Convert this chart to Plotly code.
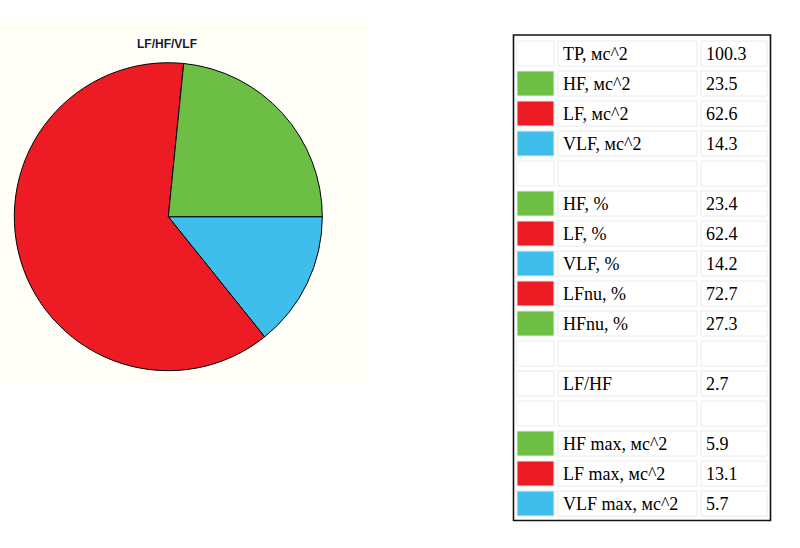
import plotly.graph_objects as go

W, H = 800, 548

# Pie data
pie_labels = ["HF", "LF", "VLF"]
pie_values = [23.5, 62.6, 14.3]
pie_colors = ["#6CBE45", "#ED1C24", "#3FBDEB"]

# Table data
row_labels = ["TP, мс^2", "HF, мс^2", "LF, мс^2", "VLF, мс^2", "",
              "HF, %", "LF, %", "VLF, %", "LFnu, %", "HFnu, %", "",
              "LF/HF", "", "HF max, мс^2", "LF max, мс^2", "VLF max, мс^2"]
row_values = ["100.3", "23.5", "62.6", "14.3", "",
              "23.4", "62.4", "14.2", "72.7", "27.3", "",
              "2.7", "", "5.9", "13.1", "5.7"]
GREEN, RED, BLUE = pie_colors[0], pie_colors[1], pie_colors[2]
row_colors = [None, GREEN, RED, BLUE, None,
              GREEN, RED, BLUE, RED, GREEN, None,
              None, None, GREEN, RED, BLUE]


def px(x):
    return x / W


def py(y):
    return 1 - y / H


fig = go.Figure()

cx, cy, r = 168.3, 216.7, 154
fig.add_trace(go.Pie(
    labels=pie_labels[::-1], values=pie_values[::-1],
    marker=dict(colors=pie_colors[::-1], line=dict(color="#000000", width=1)),
    sort=False, direction="clockwise", rotation=90,
    textinfo="none", hoverinfo="label+value+percent",
    showlegend=False,
    domain=dict(x=[px(cx - r), px(cx + r)], y=[py(cy + r), py(cy - r)]),
))

shapes = []
# cream background of chart panel
shapes.append(dict(type="rect", xref="paper", yref="paper",
                   x0=px(0), x1=px(368), y0=py(384), y1=py(20),
                   fillcolor="#FFFFF7", line=dict(width=0), layer="below"))

annotations = [dict(text="<b>LF/HF/VLF</b>", x=px(167), y=py(44), xref="paper", yref="paper",
                    showarrow=False, font=dict(family="Liberation Sans", size=12, color="#1A1A3A"),
                    xanchor="center", yanchor="middle")]

# table outer box
shapes.append(dict(type="rect", xref="paper", yref="paper",
                   x0=px(513.5), x1=px(770.5), y0=py(520.5), y1=py(35),
                   fillcolor="#FFFFFF", line=dict(color="#111111", width=1.6), layer="below"))

row_top0, pitch, cell_h = 41, 30, 25
cols = [(517, 554), (558, 697), (701, 767)]
cell_line = "#EAEAEA"
for i, (lab, val, col) in enumerate(zip(row_labels, row_values, row_colors)):
    t = row_top0 + pitch * i
    b = t + cell_h
    for j, (x0, x1) in enumerate(cols):
        fill = col if (j == 0 and col) else "#FFFFFF"
        shapes.append(dict(type="rect", xref="paper", yref="paper",
                           x0=px(x0), x1=px(x1), y0=py(b), y1=py(t),
                           fillcolor=fill, line=dict(color=cell_line, width=1)))
    mid = (t + b) / 2
    if lab:
        annotations.append(dict(text=lab, x=px(561), y=py(mid + 0.5), xref="paper", yref="paper",
                                showarrow=False, xanchor="left", yanchor="middle",
                                font=dict(family="Liberation Serif", size=18, color="#000000")))
    if val:
        annotations.append(dict(text=val, x=px(704), y=py(mid + 0.5), xref="paper", yref="paper",
                                showarrow=False, xanchor="left", yanchor="middle",
                                font=dict(family="Liberation Serif", size=18, color="#000000")))

fig.update_layout(width=W, height=H, margin=dict(l=0, r=0, t=0, b=0),
                  paper_bgcolor="#FFFFFF", plot_bgcolor="#FFFFFF",
                  shapes=shapes, annotations=annotations)

fig.write_html("out.html", config={"displayModeBar": False},
               post_script="document.body.style.margin='0';")
